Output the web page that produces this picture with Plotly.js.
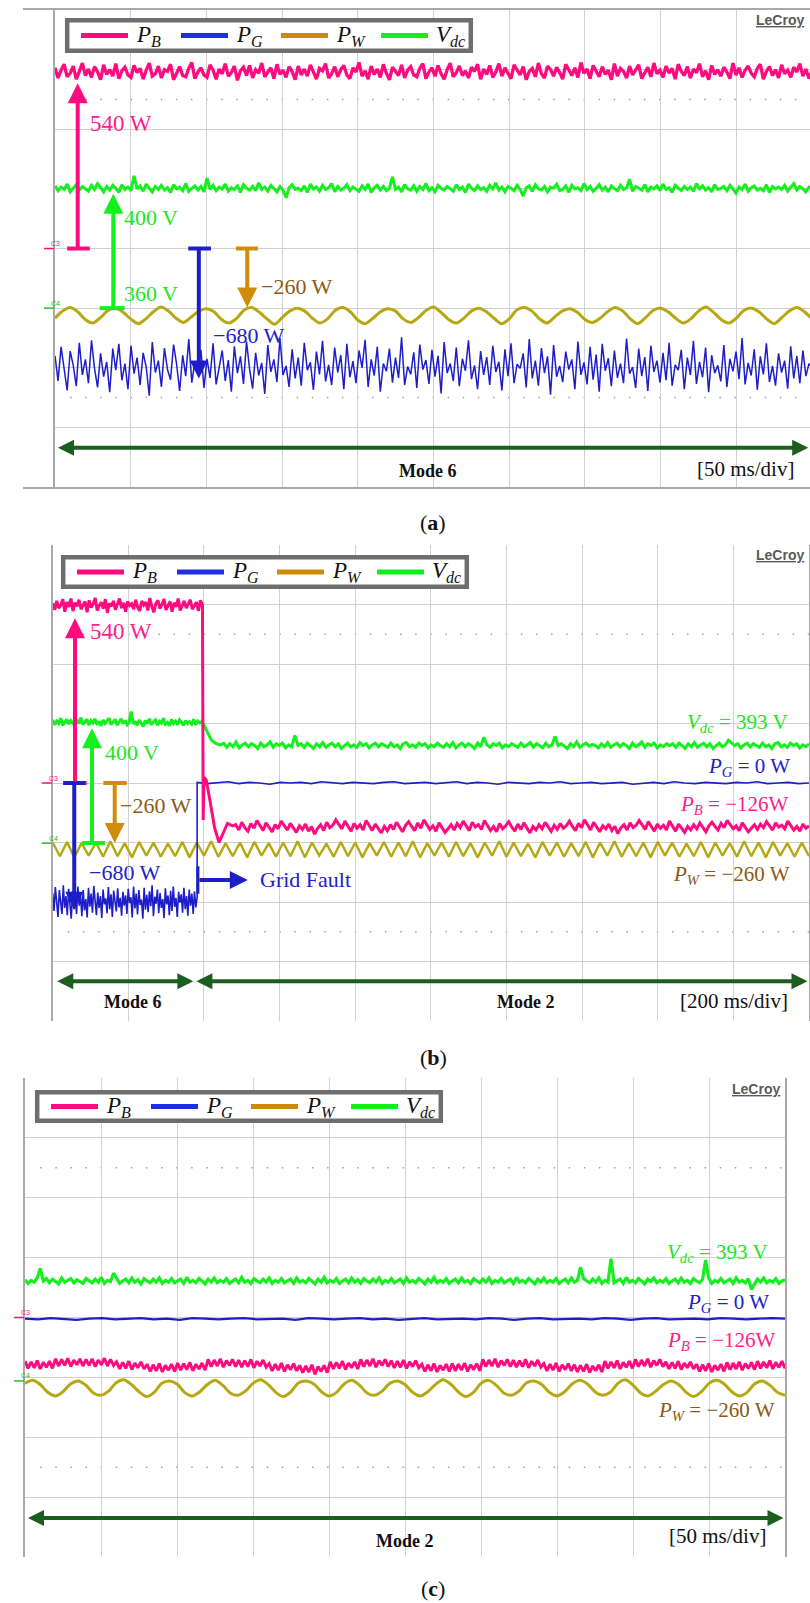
<!DOCTYPE html>
<html><head><meta charset="utf-8">
<script src="https://cdn.plot.ly/plotly-3.0.1.min.js"></script>
<style>html,body{margin:0;padding:0;background:#fff}#chart{width:810px;height:1603px}</style>
</head><body><div id="chart"></div>
<script>
// ---------- data ----------
// all trace values are screen positions in 1/100 division (0 = C3 reference line, +100 = one division up)
const seriesNames = ['<i>P</i><sub><i>B</i></sub>','<i>P</i><sub><i>G</i></sub>','<i>P</i><sub><i>W</i></sub>','<i>V</i><sub><i>dc</i></sub>'];

// panel (a): 50 ms/div, Mode 6
const PB_a = [303,286,299,309,288,294,306,284,297,311,290,301,287,305,296,283,308,292,300,289,310,285,298,304,291,287,307,295,302,284,299,311,289,293,306,286,300,297,309,283,294,305,290,288,302,312,285,296,303,291,287,308,299,284,301,293,310,289,295,306,282,298,304,290,307,286,300,294,311,288,296,303,285,309,292,299,287,305,297,283,306,291,301,289,308,295,284,302,298,310,286,293,305,288,300,307,291,285,303,296,312,289,298,284,306,292,301,287,309,294,283,304,297,290,308,286,299,305,291,288,302,310,285,296,303,289,307,293,284,300,311,288,295,306,290,298,286,304,297,309,284,301,292,307,287,296,310,289,303,294,285,308,299,291,305,283,297,302,288,311,293,286,306,300,289,304,295,284,309,298,290,303,287,312,294,301,285,307,296,288,305,292,299,283,310,289,302,297,286,306,291,300,308,285,296,304,288,311,293,299,287,306,294,302,284,309,297,290,305,286,301,295,310,288,298,283,307,292,300,289,304,296,285,311,291,303,287,299,306,294,288,302,309,284,297,305,290,300,286,308,293,299,287,304,296,310,289,301,285,297];
const VDC_a = [105,97,103,99,108,95,101,107,98,104,100,96,106,99,109,102,95,104,98,106,101,94,107,99,103,97,122,100,105,96,108,101,95,104,99,106,98,102,94,107,100,103,97,109,96,101,105,98,104,95,118,99,106,97,103,100,108,96,102,99,105,94,107,101,98,104,97,110,99,103,96,106,100,95,104,98,85,102,107,99,101,97,105,94,108,100,103,96,106,99,102,109,95,104,98,101,107,97,103,100,96,105,99,108,94,102,106,98,104,97,101,120,99,103,95,107,100,98,105,96,104,99,109,97,102,95,106,101,98,104,100,96,107,99,103,94,108,101,97,105,99,102,96,106,100,110,98,103,95,104,101,97,106,99,88,102,105,96,107,100,98,104,95,103,101,108,97,99,105,94,106,100,102,97,109,99,104,96,101,107,98,103,95,105,100,97,106,99,102,116,96,104,101,98,107,95,103,100,105,97,108,99,102,94,106,101,97,104,99,103,96,109,100,105,98,102,95,107,99,101,104,97,106,100,93,103,99,108,96,102,105,98,101,97,107,94,104,100,103,99,106,96,102,109,98,104,100,95,103,101];
const PW_a = [-117,-105,-99,-106,-119,-125,-116,-104,-100,-107,-118,-126,-118,-106,-98,-105,-117,-124,-115,-105,-101,-106,-119,-125,-117,-103,-99,-107,-118,-127,-116,-105,-100,-105,-117,-125,-118,-104,-99,-106,-120,-126,-117,-106,-101,-105,-118,-124,-116,-104,-98,-107,-119,-125,-117,-105,-100,-106,-117,-126,-118,-103,-99,-105,-118,-125,-115,-105,-101,-107,-119,-124,-117,-106,-99,-105,-118,-126,-116,-104,-100,-106,-117,-125,-118,-105,-98,-107,-119,-125,-117,-104,-100,-106,-118,-126,-116,-105,-99,-106,-118];
const PG_a = [-180,-222,-165,-205,-238,-172,-196,-231,-158,-212,-186,-226,-154,-201,-233,-176,-215,-190,-241,-168,-204,-160,-221,-193,-236,-163,-210,-183,-229,-175,-199,-247,-157,-208,-188,-232,-167,-203,-220,-161,-194,-239,-179,-214,-152,-225,-190,-206,-170,-234,-185,-217,-159,-228,-196,-171,-222,-187,-240,-164,-209,-181,-227,-156,-202,-235,-175,-213,-192,-244,-162,-207,-186,-224,-150,-212,-197,-232,-169,-218,-183,-230,-158,-204,-191,-237,-173,-211,-155,-223,-195,-229,-166,-208,-179,-236,-160,-216,-189,-226,-171,-200,-153,-232,-186,-213,-165,-240,-193,-206,-168,-225,-183,-217,-149,-229,-198,-211,-174,-234,-161,-203,-187,-227,-170,-215,-180,-243,-157,-209,-193,-222,-166,-231,-185,-205,-154,-219,-196,-236,-172,-212,-182,-229,-163,-207,-190,-238,-169,-214,-159,-226,-194,-201,-176,-233,-152,-218,-188,-230,-167,-209,-181,-245,-162,-215,-197,-224,-173,-203,-186,-236,-156,-212,-191,-228,-165,-220,-178,-240,-160,-205,-184,-231,-171,-217,-193,-226,-151,-210,-199,-234,-168,-214,-182,-239,-163,-207,-188,-225,-175,-221,-158,-230,-195,-204,-170,-236,-183,-212,-155,-227,-190,-216,-166,-241,-179,-209,-196,-223,-162,-232,-185,-206,-173,-219,-150,-228,-192,-213,-169,-237,-181,-211,-159,-224,-197,-230,-176,-208,-188,-235,-164,-218,-180,-226,-171,-214,-193,-200];

// panel (b): 200 ms/div, grid fault near the 2nd division
const PB_b_pre = [302,291,306,294,299,309,288,304,296,310,289,303,297,308,292,300,305,287,307,295,301,311,290,298,304,293,309,286,302,297,306,291,300,310,294,303,288,305,298,301,292,308,295,289,306,299,304,290,311,296,287,302,307,293,300,309,291,297,305,288,303,296,310,290,299,306,294,301,308,292,298,304,289,307,300];
const PB_b_fault_t = [1.99,2.0,2.03,2.08,2.14,2.2,2.25,2.31,2.38];
const PB_b_fault_v = [-62,10,5,-30,-75,-100,-85,-68,-72];
const PB_b_post = [-70,-79,-66,-75,-81,-68,-76,-63,-72,-80,-67,-74,-82,-70,-77,-64,-71,-79,-68,-75,-83,-72,-78,-69,-81,-73,-86,-76,-70,-80,-66,-75,-71,-62,-69,-77,-64,-73,-81,-68,-76,-70,-79,-63,-72,-80,-69,-77,-84,-73,-80,-70,-78,-66,-74,-82,-71,-65,-73,-80,-67,-76,-62,-70,-78,-72,-81,-67,-74,-83,-77,-70,-79,-68,-75,-64,-72,-80,-66,-74,-70,-78,-63,-71,-80,-73,-82,-68,-77,-72,-65,-74,-81,-69,-78,-67,-75,-84,-73,-79,-70,-77,-66,-74,-81,-71,-78,-68,-76,-72,-64,-73,-80,-68,-75,-62,-71,-79,-66,-74,-82,-72,-77,-69,-80,-73,-85,-75,-70,-79,-67,-75,-71,-63,-70,-78,-65,-73,-81,-69,-76,-71,-79,-64,-72,-81,-69,-76,-83,-73,-79,-70,-77,-67,-74,-82,-72,-66,-73,-79,-68,-75,-63,-70,-77,-72,-80,-67,-74,-82,-76,-70,-78,-69,-75,-65,-72,-79,-67,-74,-71,-77,-64,-72,-79,-73,-81,-69,-76,-72];
const VDC_b_pre = [106,98,104,100,109,97,102,107,99,105,101,96,106,100,110,98,103,107,97,105,101,108,98,104,96,106,100,105,109,98,102,107,97,103,108,100,105,98,102,120,99,104,97,106,101,95,105,100,108,98,103,106,97,104,101,109,99,102,96,107,100,104,98,106,102,97,105,100,103,99,107,98,104,101,103];
const VDC_b_fault_t = [2.0,2.05,2.1,2.16,2.22];
const VDC_b_fault_v = [98,84,72,66,64];
const VDC_b_post = [67,60,66,61,69,59,64,67,61,66,63,58,67,61,64,69,60,66,63,67,59,64,61,80,63,66,60,67,63,58,66,61,68,60,64,67,61,66,58,63,67,61,64,60,68,63,66,59,64,67,61,66,63,60,67,61,64,58,66,68,61,64,60,67,63,66,59,64,61,67,63,60,66,61,68,59,64,67,61,66,63,58,67,61,77,64,60,66,63,67,59,64,61,66,63,60,67,61,64,68,60,66,63,59,67,61,64,78,63,66,62,58,66,61,69,60,64,67,62,65,63,59,66,61,68,60,64,67,61,66,63,58,67,61,64,69,60,66,63,67,59,64,61,66,63,66,60,67,63,58,66,61,68,60,64,67,61,66,58,63,67,61,64,72,68,63,66,59,64,67,61,66,63,60,67,61,64,58,66,68,61,64,60,67,63,66,59,64,61,66];
const PG_b_pre = [-185,-215,-175,-205,-225,-180,-200,-220,-172,-210,-190,-222,-178,-202,-228,-182,-212,-192,-220,-174,-206,-188,-224,-180,-214,-195,-226,-176,-208,-186,-218,-173,-203,-222,-184,-210,-190,-227,-179,-204,-194,-219,-175,-212,-187,-225,-181,-200,-216,-177,-209,-193,-223,-183,-206,-189,-220,-178,-202,-192,-226,-174,-211,-186,-221,-180,-205,-196,-228,-176,-213,-188,-217,-182,-207,-172,-224,-191,-203,-179,-219,-185,-210,-195,-227,-177,-204,-189,-222,-181,-215,-174,-208,-193,-225,-183,-201,-187,-218,-176,-212,-190,-223,-179,-206,-186,-220,-182,-209,-192];
const PG_b_post = [1,-1,0,2,-1,1,0,-2,1,0,1,-1,2,0,-1,1,0,-1,1,2,-1,0,1,-1,0,2,-1,1,0,-2,1,0,-1,1,0,2,-1,0,1,-1,0,1,-2,0,1,-1,2,0,-1,1,0,-1,1,0,2,-1,0,1,-1,0];
const PW_b = [-100,-123,-99,-125,-101,-122,-100,-124,-98,-123,-101,-125,-99,-122,-100,-124,-102,-123,-99,-125,-100,-122,-98,-124,-101,-123,-100,-125,-99,-122,-101,-124,-100,-123,-98,-125,-100,-122,-102,-124,-99,-123,-100,-125,-101,-122,-99,-124,-100,-123,-98,-125,-101,-122,-100,-124,-99,-123,-101,-125,-100,-122,-98,-124,-100,-123,-102,-125,-99,-122,-100,-124,-101,-123,-99,-125,-100,-122,-98,-124,-101,-123,-100,-125,-99,-122,-100,-124,-102,-123,-99,-125,-100,-122,-101,-124,-98,-123,-100,-125,-99,-122,-101,-124,-100,-123];
const faultTimes = {PB:[1.98, 2.42], VDC:[1.97, 2.26], PG:1.91};

// panel (c): 50 ms/div, Mode 2
const VDC_c = [63,57,62,59,66,82,61,65,58,64,60,56,66,59,62,65,58,63,60,57,65,61,58,64,59,67,57,62,60,74,65,57,61,64,58,66,59,63,56,65,61,58,64,59,66,57,62,59,65,58,61,64,57,67,59,62,58,65,61,56,64,59,66,58,62,59,65,57,61,64,58,67,59,62,57,65,61,58,64,59,66,57,62,59,65,58,61,64,57,66,59,62,58,65,61,56,64,59,67,58,62,59,65,57,61,64,58,66,59,63,57,65,61,58,64,59,66,57,62,59,65,58,61,64,57,66,59,62,58,65,61,56,64,59,67,58,62,59,65,57,61,64,58,66,59,62,57,65,61,58,64,59,66,57,62,59,65,58,61,64,57,67,59,62,58,65,61,56,64,59,66,58,62,59,65,57,61,64,58,66,59,62,84,65,61,58,64,59,66,57,62,59,98,58,61,64,57,67,59,62,58,65,61,56,64,60,66,58,62,59,65,57,61,64,58,66,59,62,57,65,61,58,64,96,66,57,62,59,65,58,61,64,57,66,59,62,58,65,47,56,64,59,66,58,62,59,65,57,61,63];
const PG_c = [-2,-3,-1,-2,-4,-2,-1,-3,-2,-1,-3,-2,-4,-1,-2,-3,-2,-1,-3,-2,-2,-4,-1,-2,-3,-2,-1,-3,-2,-4,-2,-1,-3,-2,-2,-3,-1,-2,-4,-2,-1,-3,-2,-2,-3,-1,-2,-4,-2,-1,-3,-2,-2,-3,-1,-2,-3,-2,-1,-2];
const PB_c = [-73,-85,-74,-84,-72,-86,-75,-83,-73,-85,-69,-81,-70,-80,-68,-82,-71,-79,-69,-81,-70,-80,-69,-82,-71,-79,-68,-81,-70,-80,-74,-86,-75,-85,-73,-87,-76,-84,-74,-86,-78,-90,-79,-89,-77,-91,-80,-88,-78,-90,-76,-88,-77,-87,-75,-89,-78,-86,-76,-88,-70,-82,-71,-81,-69,-83,-72,-80,-70,-82,-71,-83,-72,-82,-70,-84,-73,-81,-71,-83,-77,-89,-78,-88,-76,-90,-79,-87,-77,-89,-80,-92,-81,-91,-79,-95,-82,-90,-80,-92,-74,-86,-75,-85,-73,-87,-76,-84,-74,-86,-70,-82,-71,-81,-69,-83,-72,-80,-70,-82,-72,-84,-73,-83,-71,-85,-74,-82,-72,-84,-78,-90,-79,-89,-77,-91,-80,-88,-78,-90,-77,-89,-78,-88,-76,-90,-79,-87,-77,-89,-70,-82,-71,-81,-69,-83,-72,-80,-70,-82,-71,-83,-72,-82,-70,-84,-73,-81,-71,-83,-77,-89,-78,-88,-76,-90,-79,-87,-77,-89,-79,-91,-80,-90,-78,-92,-81,-89,-79,-91,-73,-85,-74,-84,-72,-86,-75,-83,-73,-85,-70,-82,-71,-81,-69,-83,-72,-80,-70,-82,-74,-86,-75,-85,-73,-87,-76,-84,-74,-86,-78,-90,-79,-89,-77,-91,-80,-88,-78,-90,-75,-87,-76,-86,-74,-88,-77,-85,-75,-87,-73,-85,-74,-84,-72,-86,-75,-83,-73,-85];
const PW_c = [-110,-105,-112,-125,-131,-124,-111,-106,-113,-126,-130,-123,-109,-104,-112,-124,-132,-125,-110,-106,-111,-125,-131,-124,-112,-105,-113,-126,-130,-123,-110,-104,-112,-125,-132,-124,-109,-106,-111,-124,-131,-125,-111,-105,-113,-126,-130,-123,-110,-106,-112,-125,-131,-124,-112,-104,-111,-124,-132,-125,-110,-105,-113,-126,-130,-123,-109,-106,-112,-125,-131,-124,-111,-105,-111,-124,-130,-125,-110,-104,-113,-126,-131,-123,-112,-106,-112,-125,-132,-124,-110,-105,-111,-124,-131,-125,-111,-106,-113,-125,-130];

// ---------- styling ----------
const C = {pink:'#FF0A7F', blue:'#1E1EC8', gold:'#B7A812', green:'#14F01E',
  pinkT:'#FF1C8C', blueT:'#2222C8', greenT:'#22E622', brownT:'#8C5A14', arrowGold:'#D08C0A', mode:'#1B5E20'};
const legendColors = ['#FF0A7F', '#1E2EE6', '#CC8A0A', '#14EE1E'];
const SERIF = 'Liberation Serif, Times New Roman, serif';

function span(n, t0, t1){ const out = []; for (let i = 0; i < n; i++) out.push(t0 + (t1 - t0) * i / (n - 1)); return out; }
function div(arr){ return arr.map(v => v / 100); }

const P = {
  a:{x:[55/810, 1], y:[1-487/1603, 1-10/1603], xr:[0, 755/75.7], cx:(55+5*75.7)/810, cy:1-248.5/1603},
  b:{x:[52.7/810, 809/810], y:[1-1021/1603, 1-545/1603], xr:[0, 10], cx:(52.7+5*75.63)/810, cy:1-783/1603},
  c:{x:[25/810, 785/810], y:[1-1557/1603, 1-1078/1603], xr:[0, 10], cx:(25+5*76)/810, cy:1-1317.5/1603}
};

const traces = [];
function line(xs, ys, color, width, xa, ya, shape){
  traces.push({x:xs, y:div(ys), type:'scatter', mode:'lines', line:{color:color, width:width, shape:shape||'linear', smoothing:0.8},
    xaxis:xa, yaxis:ya, showlegend:false, hoverinfo:'skip'});
}
// panel a
line(span(PW_a.length,0,10), PW_a, C.gold, 3, 'x', 'y', 'spline');
line(span(PG_a.length,0,10), PG_a, C.blue, 1.5, 'x', 'y');
line(span(VDC_a.length,0,10), VDC_a, C.green, 3, 'x', 'y');
line(span(PB_a.length,0,10), PB_a, C.pink, 3.3, 'x', 'y');
// panel b
line(span(PW_b.length,0,10), PW_b, C.gold, 2.4, 'x2', 'y2');
line(span(PG_b_pre.length,0,faultTimes.PG).concat(span(PG_b_post.length,faultTimes.PG,10)), PG_b_pre.concat(PG_b_post), C.blue, 1.6, 'x2', 'y2');
line(span(VDC_b_pre.length,0,faultTimes.VDC[0]).concat(VDC_b_fault_t, span(VDC_b_post.length,faultTimes.VDC[1],10)), VDC_b_pre.concat(VDC_b_fault_v, VDC_b_post), C.green, 3, 'x2', 'y2');
line(span(PB_b_pre.length,0,faultTimes.PB[0]).concat(PB_b_fault_t, span(PB_b_post.length,faultTimes.PB[1],10)), PB_b_pre.concat(PB_b_fault_v, PB_b_post), C.pink, 3, 'x2', 'y2');
// panel c
line(span(PW_c.length,0,10), PW_c, C.gold, 3, 'x3', 'y3', 'spline');
line(span(PG_c.length,0,10), PG_c, C.blue, 2.2, 'x3', 'y3');
line(span(VDC_c.length,0,10), VDC_c, C.green, 3.2, 'x3', 'y3');
line(span(PB_c.length,0,10), PB_c, C.pink, 3, 'x3', 'y3');

function baseX(p){ return {domain:p.x, range:p.xr, dtick:1, tick0:0, showgrid:true, gridcolor:'#D0D0D0', gridwidth:1,
  showticklabels:false, ticks:'', zeroline:false, showline:true, linecolor:'#A9A9A9', linewidth:2, mirror:true, fixedrange:true}; }
function baseY(p, xa){ return {domain:p.y, range:[-4,4], dtick:1, tick0:0, showgrid:true, gridcolor:'#D0D0D0', gridwidth:1,
  showticklabels:false, ticks:'', zeroline:false, showline:true, linecolor:'#A9A9A9', linewidth:2, mirror:true, fixedrange:true, anchor:xa}; }
function tickY(over, pos, side){ return {overlaying:over, anchor:'free', position:pos, side:side, range:[-4,4], dtick:0.2, tick0:0,
  ticks:'outside', ticklen:3, tickwidth:1, tickcolor:'#9C9C9C', showticklabels:false, showgrid:false, zeroline:false, showline:false, fixedrange:true}; }
function tickX(over, pos, side, xr){ return {overlaying:over, anchor:'free', position:pos, side:side, range:xr, dtick:0.2, tick0:0,
  ticks:'outside', ticklen:3, tickwidth:1, tickcolor:'#9C9C9C', showticklabels:false, showgrid:false, zeroline:false, showline:false, fixedrange:true}; }

const annotations = [];
const shapes = [];
function txt(xa, ya, x, y, text, color, anchor, size){
  annotations.push({xref:xa, yref:ya, x:x, y:y, text:text, showarrow:false, xanchor:anchor||'left', yanchor:'middle',
    font:{family:SERIF, size:size||22, color:color}});
}
function arrow(xa, ya, x, y, ax, ay, color, size, extra){
  annotations.push(Object.assign({xref:xa, yref:ya, axref:xa, ayref:ya, x:x, y:y, ax:ax, ay:ay, text:'', showarrow:true,
    arrowhead:2, arrowsize:size||1, arrowwidth:4, arrowcolor:color, standoff:0, startstandoff:0}, extra||{}));
}
function bar(xa, ya, x0, x1, y, color){
  shapes.push({type:'line', xref:xa, yref:ya, x0:x0, x1:x1, y0:y, y1:y, line:{color:color, width:4}});
}
function dots(xa, ya, xr){
  [2.5, -2.5].forEach(v => shapes.push({type:'line', xref:xa, yref:ya, x0:xr[0]+0.2, x1:xr[1], y0:v, y1:v,
    line:{color:'#A0A0A0', width:1.5, dash:'1.5px,13.6px'}, layer:'below'}));
}
function modeArrow(xa, ya, x0, x1, y){
  arrow(xa, ya, x1, y, x0, y, C.mode, 0.8, {arrowside:'end+start', startarrowhead:2, startarrowsize:0.8});
}
function chMarks(ya, left, yC3, yC4){
  shapes.push({type:'line', xref:'paper', yref:ya, x0:(left-11)/810, x1:(left-1)/810, y0:yC3, y1:yC3, line:{color:C.pink, width:1.5}});
  shapes.push({type:'line', xref:'paper', yref:ya, x0:(left-11)/810, x1:(left-1)/810, y0:yC4, y1:yC4, line:{color:'#20C020', width:1.5}});
  annotations.push({xref:'paper', yref:ya, x:(left-6)/810, y:yC3, yshift:5, text:'C3', showarrow:false, font:{family:'Liberation Sans', size:7, color:C.pink}});
  annotations.push({xref:'paper', yref:ya, x:(left-6)/810, y:yC4, yshift:5, text:'C4', showarrow:false, font:{family:'Liberation Sans', size:7, color:'#20C020'}});
}
function lecroy(xpx, ypx){
  annotations.push({xref:'paper', yref:'paper', x:xpx/810, y:1-ypx/1603, xanchor:'right', yanchor:'middle', showarrow:false,
    text:'<b><u>LeCroy</u></b>', font:{family:'Liberation Sans, Arial', size:14, color:'#5A5A5A'}});
}
function caption(letter, ypx){
  annotations.push({xref:'paper', yref:'paper', x:433/810, y:1-ypx/1603, xanchor:'center', yanchor:'middle', showarrow:false,
    text:'(<b>'+letter+'</b>)', font:{family:SERIF, size:22, color:'#111'}});
}
// boxed legend drawn as in the scope picture
function legendBox(left, top, bottom){
  const px = v => v/810, py = v => 1 - v/1603;
  const yc = (top + bottom) / 2;
  shapes.push({type:'rect', xref:'paper', yref:'paper', x0:px(left+2.2), x1:px(left+405.8), y0:py(bottom-2.2), y1:py(top+2.2),
    line:{color:'#6E6E6E', width:4.5}, fillcolor:'#FFFFFF'});
  seriesNames.forEach((nm, i) => {
    const x0 = left + 16 + 100*i;
    shapes.push({type:'line', xref:'paper', yref:'paper', x0:px(x0), x1:px(x0+47), y0:py(yc), y1:py(yc), line:{color:legendColors[i], width:5}});
    annotations.push({xref:'paper', yref:'paper', x:px(x0+53), y:py(yc), xanchor:'left', yanchor:'middle', showarrow:false, text:nm,
      font:{family:SERIF, size:23, color:'#111'}});
  });
}

// ----- panel a -----
legendBox(65, 18, 53);
bar('x','y',0.16,0.46,0,C.pink);   arrow('x','y',0.30,2.77,0.30,0,C.pink,1);
bar('x','y',0.59,0.92,-1.0,C.green); arrow('x','y',0.77,0.92,0.77,-1.0,C.green,1);
bar('x','y',1.76,2.06,0,C.blue);   arrow('x','y',1.90,-2.18,1.90,0,C.blue,0.9);
bar('x','y',2.39,2.68,0,C.arrowGold); arrow('x','y',2.54,-0.99,2.54,0,C.arrowGold,1);
txt('x','y',0.44,2.1,'540 W',C.pinkT,'left',23);
txt('x','y',0.885,0.52,'400 V',C.greenT);
txt('x','y',0.885,-0.76,'360 V',C.greenT);
txt('x','y',2.06,-1.46,'−680 W',C.blueT);
txt('x','y',2.69,-0.64,'−260 W',C.brownT);
modeArrow('x','y',0.02,9.95,-3.34);
txt('x','y',4.93,-3.73,'<b>Mode 6</b>','#111','center',18);
txt('x','y',9.79,-3.7,'[50 ms/div]','#111','right',21);
dots('x','y',P.a.xr);
chMarks('y', 55, 0, -1.0);
lecroy(806, 20);
caption('a', 522);

// ----- panel b -----
legendBox(61, 555, 589);
bar('x2','y2',0.14,0.45,0,C.pink);  arrow('x2','y2',0.295,2.77,0.295,0,C.pink,1);
bar('x2','y2',0.39,0.69,-1.01,C.green); arrow('x2','y2',0.52,0.92,0.52,-1.01,C.green,1);
bar('x2','y2',0.67,0.98,0,C.arrowGold); arrow('x2','y2',0.82,-1.01,0.82,0,C.arrowGold,1);
bar('x2','y2',0.14,0.43,0,C.blue);  arrow('x2','y2',0.285,-2.13,0.285,0,C.blue,0.9);
shapes.push({type:'line', xref:'x2', yref:'y2', x0:1.92, x1:1.92, y0:-1.4, y1:-1.86, line:{color:C.blue, width:3}});
arrow('x2','y2',2.58,-1.63,1.92,-1.63,C.blue,0.9);
txt('x2','y2',2.72,-1.63,'Grid Fault',C.blueT);
txt('x2','y2',0.47,2.55,'540 W',C.pinkT,'left',23);
txt('x2','y2',0.665,0.52,'400 V',C.greenT);
txt('x2','y2',0.86,-0.37,'−260 W',C.brownT);
txt('x2','y2',0.45,-1.5,'−680 W',C.blueT);
txt('x2','y2',9.75,1.01,'<i>V</i><sub><i>dc</i></sub> = 393 V',C.greenT,'right',21);
txt('x2','y2',9.78,0.27,'<i>P</i><sub><i>G</i></sub> = 0 W',C.blueT,'right',21);
txt('x2','y2',9.75,-0.37,'<i>P</i><sub><i>B</i></sub> = −126W',C.pinkT,'right',21);
txt('x2','y2',9.78,-1.55,'<i>P</i><sub><i>W</i></sub> = −260 W',C.brownT,'right',21);
modeArrow('x2','y2',0.04,1.86,-3.33);
modeArrow('x2','y2',1.88,9.98,-3.33);
txt('x2','y2',1.06,-3.68,'<b>Mode 6</b>','#111','center',18);
txt('x2','y2',6.26,-3.68,'<b>Mode 2</b>','#111','center',18);
txt('x2','y2',9.75,-3.66,'[200 ms/div]','#111','right',21);
dots('x2','y2',P.b.xr);
chMarks('y2', 52.7, 0, -1.01);
lecroy(806, 555);
caption('b', 1057);

// ----- panel c -----
legendBox(35, 1090, 1123);
txt('x3','y3',9.80,1.08,'<i>V</i><sub><i>dc</i></sub> = 393 V',C.greenT,'right',21);
txt('x3','y3',9.82,0.24,'<i>P</i><sub><i>G</i></sub> = 0 W',C.blueT,'right',21);
txt('x3','y3',9.89,-0.39,'<i>P</i><sub><i>B</i></sub> = −126W',C.pinkT,'right',21);
txt('x3','y3',9.89,-1.56,'<i>P</i><sub><i>W</i></sub> = −260 W',C.brownT,'right',21);
modeArrow('x3','y3',0.02,9.98,-3.35);
txt('x3','y3',5.0,-3.73,'<b>Mode 2</b>','#111','center',18);
txt('x3','y3',9.78,-3.65,'[50 ms/div]','#111','right',21);
dots('x3','y3',P.c.xr);
chMarks('y3', 25, 0, -1.06);
lecroy(782, 1089);
caption('c', 1588);

const layout = {
  width:810, height:1603, margin:{l:0, r:0, t:0, b:0}, paper_bgcolor:'#fff', plot_bgcolor:'#fff', showlegend:false,
  xaxis:baseX(P.a), yaxis:baseY(P.a,'x'),
  xaxis2:baseX(P.b), yaxis2:baseY(P.b,'x2'),
  xaxis3:baseX(P.c), yaxis3:baseY(P.c,'x3'),
  yaxis4:tickY('y', P.a.cx, 'left'), yaxis5:tickY('y', P.a.cx, 'right'),
  xaxis4:tickX('x', P.a.cy, 'bottom', P.a.xr), xaxis5:tickX('x', P.a.cy, 'top', P.a.xr),
  yaxis6:tickY('y2', P.b.cx, 'left'), yaxis7:tickY('y2', P.b.cx, 'right'),
  xaxis6:tickX('x2', P.b.cy, 'bottom', P.b.xr), xaxis7:tickX('x2', P.b.cy, 'top', P.b.xr),
  yaxis8:tickY('y3', P.c.cx, 'left'), yaxis9:tickY('y3', P.c.cx, 'right'),
  xaxis8:tickX('x3', P.c.cy, 'bottom', P.c.xr), xaxis9:tickX('x3', P.c.cy, 'top', P.c.xr),
  annotations:annotations, shapes:shapes
};
Plotly.newPlot('chart', traces, layout, {staticPlot:true, displayModeBar:false});
</script></body></html>
